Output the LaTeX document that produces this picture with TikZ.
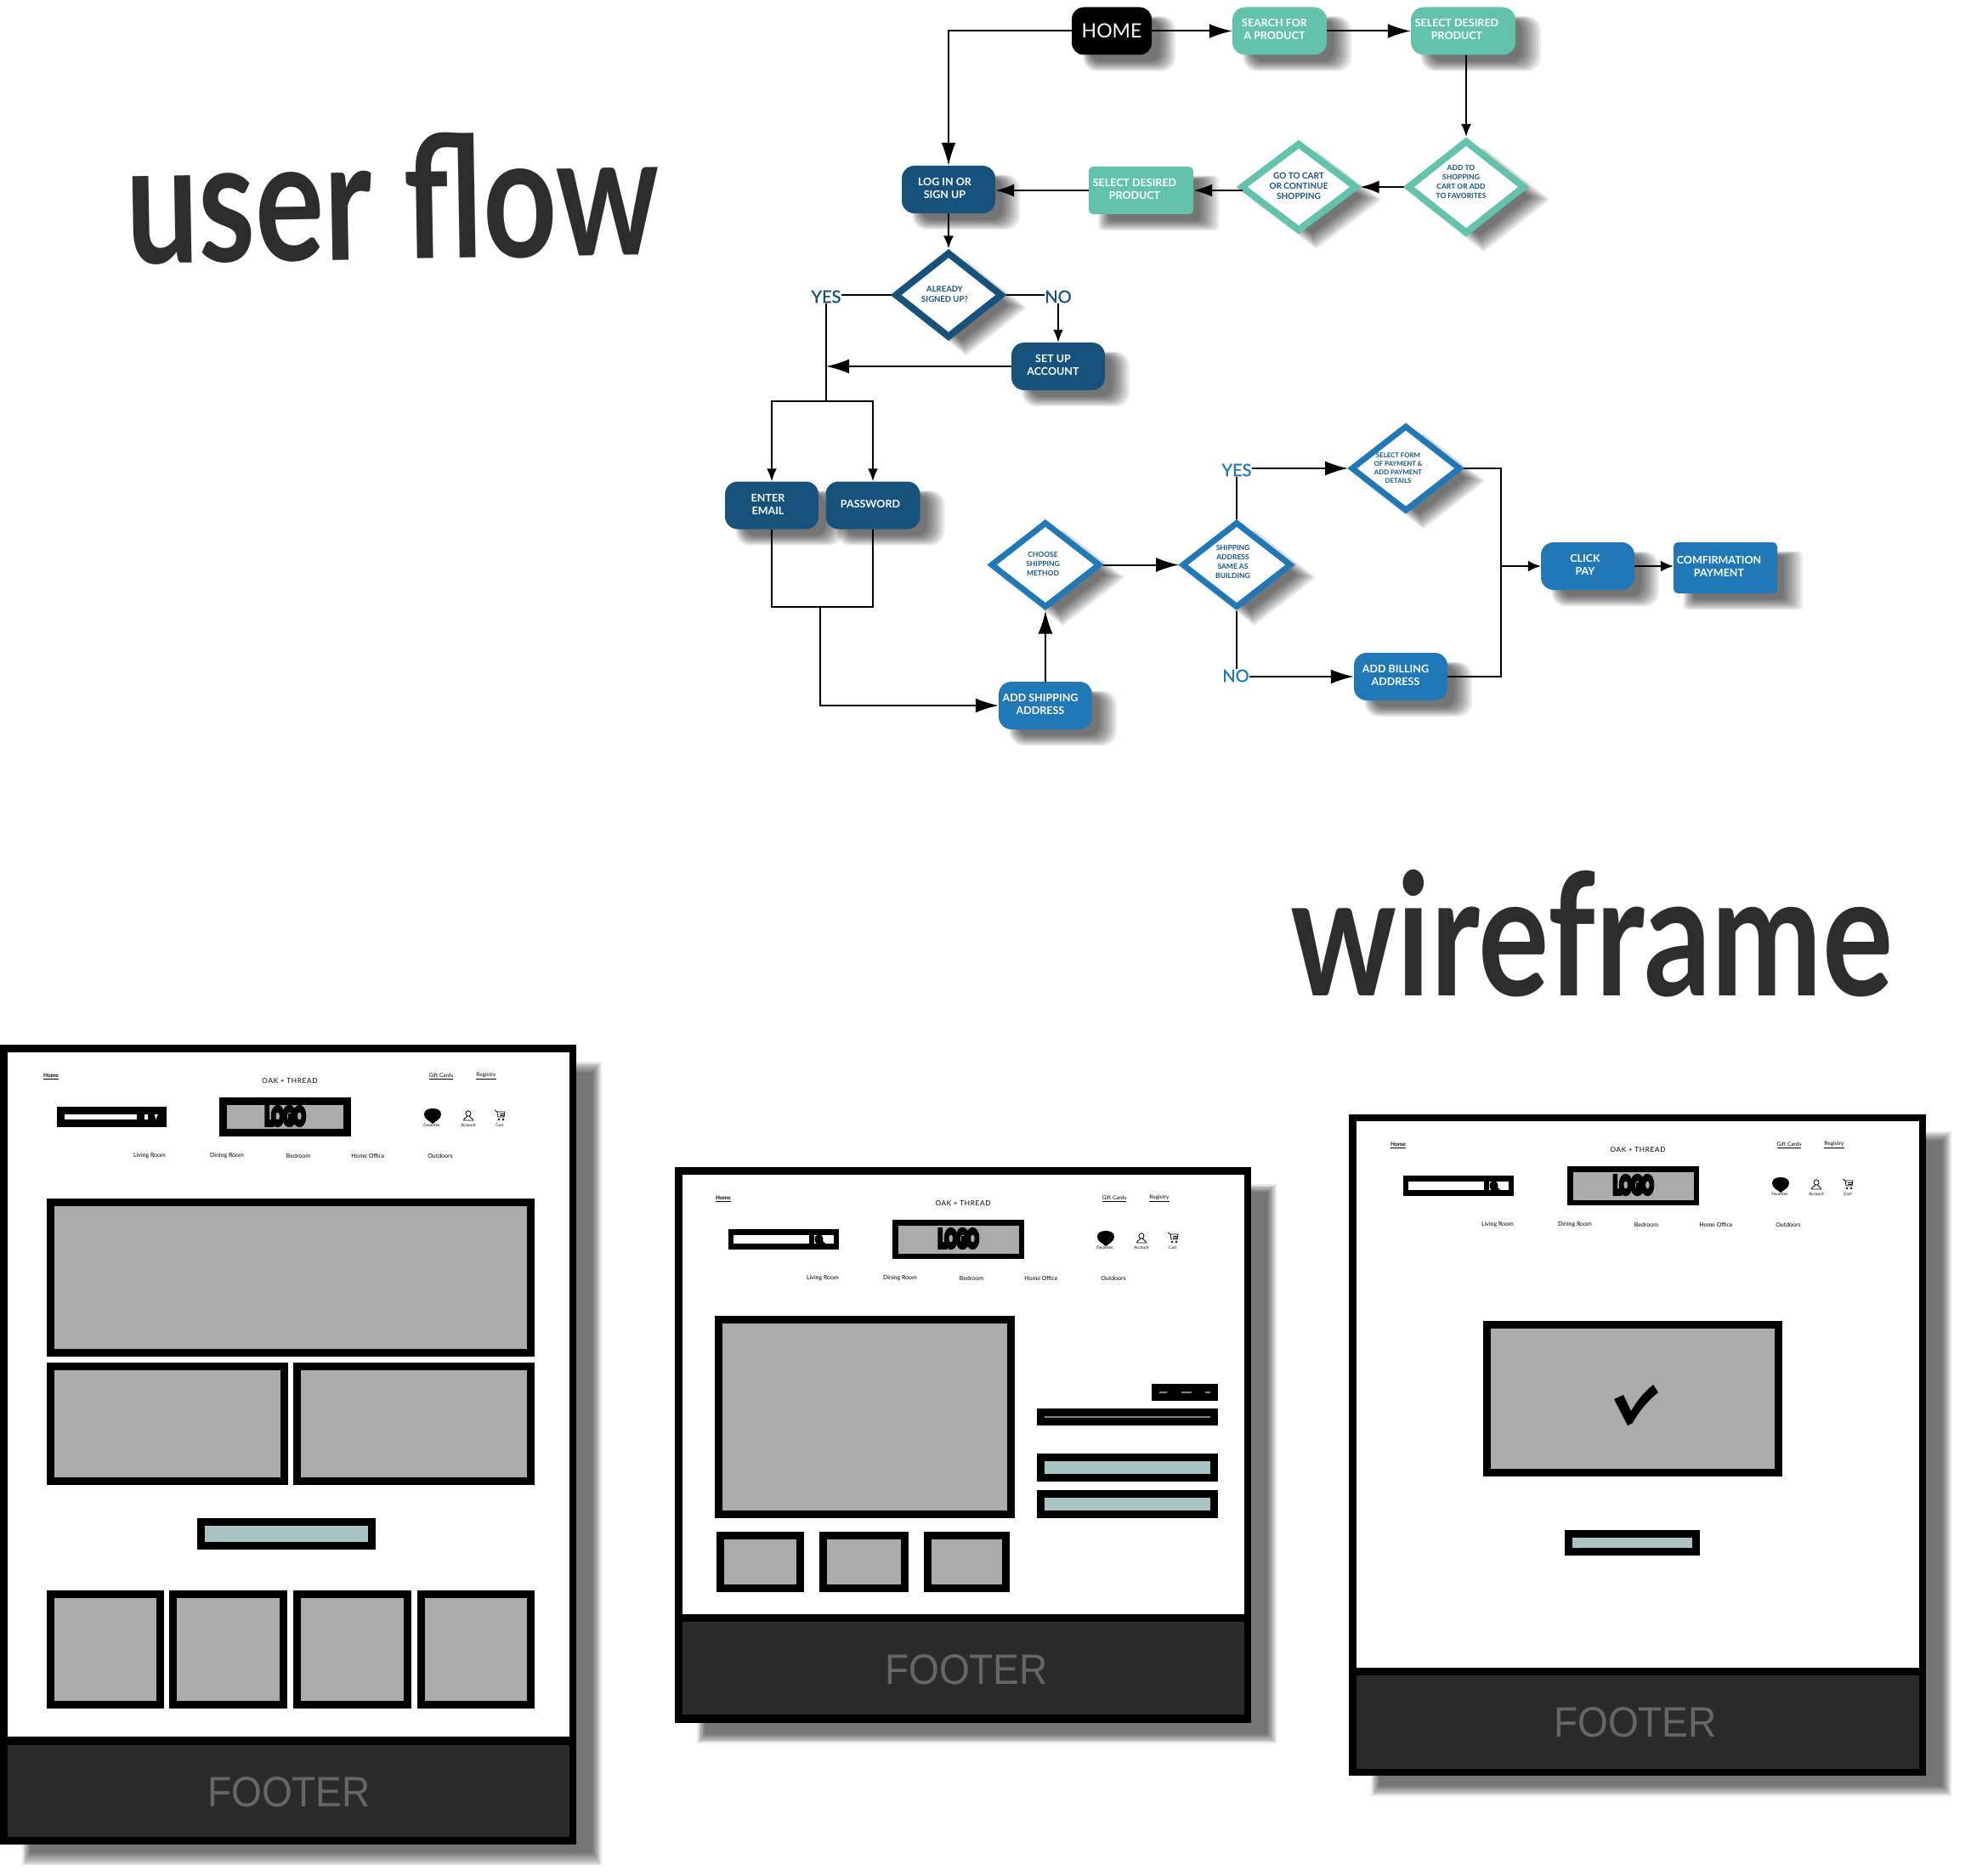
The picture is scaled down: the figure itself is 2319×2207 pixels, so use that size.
\documentclass[tikz,border=0pt]{standalone}
\usepackage{fontspec}
\setmainfont{Lato}
\newfontfamily\footerfont{Liberation Sans}
\newfontfamily\logofont[FakeBold=24]{Lato}
\newfontfamily\wordfont[FakeBold=1]{Lato}
\usetikzlibrary{arrows.meta, shapes.geometric, shadows}
\definecolor{flowteal}{HTML}{62C2AC}
\definecolor{flownavy}{HTML}{16527B}
\definecolor{flowblue}{HTML}{2079B6}
\definecolor{imggrey}{HTML}{ABABAB}
\definecolor{btnteal}{HTML}{A9C3C2}
\definecolor{footerdark}{HTML}{2B2B2B}
\definecolor{footertext}{HTML}{666666}
\definecolor{titledark}{HTML}{2D2D2D}
\tikzset{
  flowlayer/.style={general shadow={shadow xshift=18pt, shadow yshift=-13pt, shadow scale=#1, fill=black, opacity=.09}},
  wflayer/.style={general shadow={shadow xshift=28pt, shadow yshift=-22pt, shadow scale=#1, fill=black, opacity=.09}},
  flowshadow/.style={flowlayer/.list={1.15,1.11,1.07,1.03,.99,.95,.91,.87}},
  wfshadow/.style={wflayer/.list={1.005,1.001,.997,.993,.988,.984,.98,.975}},
  flowbox/.style={rectangle, rounded corners=15pt, minimum width=110pt, minimum height=56pt, inner sep=0pt, text=white, font=\fontsize{12.5}{15}\selectfont\bfseries, flowshadow},
  flowdiamond/.style={diamond, aspect=1.26, draw=#1, line width=8pt, fill=white, inner sep=0pt, text=flownavy, flowshadow},
  flowword/.style={inner sep=0pt, font=\wordfont\fontsize{20}{20}\selectfont},
  bigarrow/.style={-{Latex[length=27pt,width=17pt]}},
  midarrow/.style={-{Latex[length=22pt,width=15pt]}},
  smallarrow/.style={-{Latex[length=15pt,width=12pt]}},
  link/.style={line width=2pt, black},
  imgbox/.style={draw=black, line width=9pt, fill=imggrey},
  btnbox/.style={draw=black, line width=9pt, fill=btnteal},
  navlink/.style={inner sep=0pt, font=\fontsize{6.5}{8}\selectfont},
  brandtext/.style={inner sep=0pt, font=\fontsize{8.2}{10}\selectfont\addfontfeature{LetterSpace=8}},
  menuitem/.style={inner sep=0pt, font=\fontsize{7}{9}\selectfont},
  iconlabel/.style={inner sep=0pt, font=\fontsize{4.8}{6}\selectfont},
  logotext/.style={inner sep=0pt, font=\logofont\fontsize{27}{27}\selectfont},
  footerlabel/.style={inner sep=0pt, text=footertext, font=\footerfont\fontsize{50}{50}\selectfont},
  bigtitle/.style={inner sep=0pt, text=titledark, font=\fontsize{200}{200}\selectfont\bfseries}
}
\newcommand{\lines}[2]{\begin{tabular}{@{}c@{}}#2\end{tabular}\hspace*{#1pt}}
\newcommand{\wfheader}[5]{%
  \begin{scope}[shift={(#2,#3)}]
    \node[navlink] (#1home) at (#4,-36) {\bfseries\underline{Home}};
    \node[brandtext] (#1brand) at (276,-30) {OAK + THREAD};
    \node[navlink] (#1gift) at (454,-36) {\underline{Gift Cards}};
    \node[navlink] (#1registry) at (507,-36) {\underline{Registry}};
    \fill[black] (193,-11) rectangle (348,35);
    \fill[imggrey] (193+#5,-11+#5) rectangle (348-#5,35-#5);
    \node[logotext] (#1logo) at (270.5,11) {\scalebox{.62}[1]{LOGO}};
    \fill[black] (444,20) .. controls (441,17) and (434,15) .. (434,9) .. controls (434,4.5) and (438,2) .. (444,2) .. controls (450,2) and (454,4.5) .. (454,9) .. controls (454,15) and (447,17) .. (444,20) -- cycle;
    \draw[line width=.8pt] (486,8) ellipse (3 and 3.2);
    \draw[line width=.8pt] (484.5,11) .. controls (484.5,13) and (480.5,13) .. (480.5,16) -- (491.5,16) .. controls (491.5,13) and (487.5,13) .. (487.5,11);
    \draw[line width=.8pt] (517,4) -- (520,6) -- (529,6) -- (528,12) -- (521,12) -- (520,6);
    \draw[line width=.6pt] (523,8) -- (528,8) (523,10) -- (528,10);
    \fill[black] (522,15) circle (1.4) (527,15) circle (1.4);
    \node[iconlabel] (#1fav) at (443,22) {Favorites};
    \node[iconlabel] (#1acc) at (486,22) {Account};
    \node[iconlabel] (#1cart) at (523,22) {Cart};
    \foreach \X/\Y [count=\Z] in {Living Room/111, Dining Room/202, Bedroom/286, Home Office/368, Outdoors/453} {
      \node[menuitem] (#1menu\Z) at (\Y,58) {\X};
    }
  \end{scope}}
\newcommand{\wfsearch}[2]{%
  \begin{scope}[shift={(#1,#2)}]
    \fill[black] (0,0) rectangle (130,24);
    \fill[white] (6,7) rectangle (95,17);
    \fill[white] (101,7) rectangle (124,17);
    \fill[black] (106.5,12) ellipse (5 and 6);
    \draw[line width=3pt] (110,15) -- (116,21);
  \end{scope}}
\begin{document}
\begin{tikzpicture}[x=1pt, y=-1pt]
  \useasboundingbox (0,0) rectangle (2319,2207);
  \fill[white] (0,0) rectangle (2319,2207);

  \node[bigtitle, rotate=1] (userflow) at (462,232) {\scalebox{.76}[1]{user flow}};
  \node[bigtitle] (wireframe) at (1873,1098) {\scalebox{.78}[1]{wireframe}};

  % flow nodes
  \node[flowbox, fill=black, rounded corners=14pt, minimum width=94pt, font=\fontsize{23}{25}\selectfont] (home) at (1308,36.5) {HOME};
  \node[flowbox, fill=flowteal, minimum width=111pt] (search) at (1505.5,36.5) {\lines{12}{SEARCH FOR\\A PRODUCT}};
  \node[flowbox, fill=flowteal, minimum width=123pt] (selectone) at (1721.5,36.5) {\lines{15}{SELECT DESIRED\\PRODUCT}};
  \node[flowdiamond=flowteal, minimum width=137pt, minimum height=104pt, font=\fontsize{8.5}{11}\selectfont\bfseries] (addfav) at (1725,220) {\lines{12}{ADD TO\\SHOPPING\\CART OR ADD\\TO FAVORITES\\[10pt]}};
  \node[flowdiamond=flowteal, minimum width=137pt, minimum height=104pt, font=\fontsize{10}{12}\selectfont\bfseries] (gocart) at (1528,220) {\lines{0}{GO TO CART\\OR CONTINUE\\SHOPPING}};
  \node[flowbox, fill=flowteal, rounded corners=5pt, minimum width=123pt] (selecttwo) at (1342.5,224) {\lines{15}{SELECT DESIRED\\PRODUCT}};
  \node[flowbox, fill=flownavy] (login) at (1116,223) {\lines{9}{LOG IN OR\\SIGN UP}};
  \node[flowdiamond=flownavy, minimum width=127pt, minimum height=101pt, font=\fontsize{9.5}{12}\selectfont\bfseries] (signed) at (1116,347) {\lines{9}{ALREADY\\SIGNED UP?}};
  \node[flowword, text=flownavy] (yes) at (972,349) {YES};
  \node[flowword, text=flownavy] (no) at (1245,349) {NO};
  \node[flowbox, fill=flownavy] (setup) at (1245,431) {\lines{12}{SET UP\\ACCOUNT}};
  \coordinate (fork) at (972,472);
  \node[flowbox, fill=flownavy] (enter) at (908,594.5) {\lines{9}{ENTER\\EMAIL}};
  \node[flowbox, fill=flownavy, minimum width=111pt] (password) at (1027,594.5) {\lines{6}{PASSWORD}};
  \coordinate (merge) at (965,714);
  \node[flowbox, fill=flowblue] (addship) at (1230,830) {\lines{12}{ADD SHIPPING\\ADDRESS}};
  \node[flowdiamond=flowblue, line width=7pt, minimum width=129pt, minimum height=101pt, text=flowblue!70!black, font=\fontsize{8.5}{11}\selectfont\bfseries] (choose) at (1230,664.5) {\lines{6}{CHOOSE\\SHIPPING\\METHOD}};
  \node[flowdiamond=flowblue, line width=7pt, minimum width=129pt, minimum height=101pt, text=flowblue!70!black, font=\fontsize{8.5}{11}\selectfont\bfseries] (same) at (1455,664.5) {\lines{9}{SHIPPING\\ADDRESS\\SAME AS\\BUILDING\\[6pt]}};
  \node[flowword, text=flowblue] (yesb) at (1455,553) {YES};
  \node[flowword, text=flowblue] (nob) at (1454,795) {NO};
  \node[flowdiamond=flowblue, line width=7pt, minimum width=129pt, minimum height=101pt, text=flowblue!70!black, font=\fontsize{7.8}{10}\selectfont\bfseries] (pay) at (1654,551) {\lines{18}{SELECT FORM\\OF PAYMENT \&\\ADD PAYMENT\\DETAILS}};
  \node[flowbox, fill=flowblue] (billing) at (1648,796) {\lines{12}{ADD BILLING\\ADDRESS}};
  \coordinate (paybus) at (1766,551);
  \coordinate (billbus) at (1766,796);
  \coordinate (clickbus) at (1766,666);
  \node[flowbox, fill=flowblue] (click) at (1868,666) {\lines{6}{CLICK\\PAY}};
  \node[flowbox, fill=flowblue, rounded corners=5pt, minimum width=122pt, minimum height=60pt] (confirm) at (2030,668) {\lines{15}{COMFIRMATION\\PAYMENT}};

  % flow connectors
  \draw[link, bigarrow] (home.west) -| (login.north);
  \draw[link, bigarrow] (home) -- (search);
  \draw[link, bigarrow] (search) -- (selectone);
  \draw[link, smallarrow] (selectone.south -| addfav.north) -- (addfav.north);
  \draw[link, midarrow] (addfav.west) -- (gocart.east);
  \draw[link, midarrow] ([shift={(6,4)}]gocart.west) -- (selecttwo.east);
  \draw[link, midarrow] (selecttwo.west) -- (login.east |- selecttwo.west);
  \draw[link, smallarrow] (login) -- (signed.north);
  \draw[link] (signed.west) -- (yes.east |- signed.west);
  \draw[link] (signed.east) -- (no.west |- signed.east);
  \draw[link, smallarrow] (no.south) -- (setup.north);
  \draw[link] (yes.south) -- (fork);
  \draw[link, bigarrow] (setup.west) -- (fork |- setup.west);
  \draw[link, smallarrow] (fork) -| (enter.north);
  \draw[link, smallarrow] (fork) -| (password.north);
  \draw[link] (enter.south) |- (merge);
  \draw[link] (password.south) |- (merge);
  \draw[link, bigarrow] (merge) |- (addship.west);
  \draw[link, bigarrow] (addship.north) -- (choose.south);
  \draw[link, bigarrow] (choose.east) -- (same.west);
  \draw[link] (same.north) -- (yesb.south);
  \draw[link] (same.south) -- (nob.north -| same.south);
  \draw[link, bigarrow] (yesb.east |- pay.west) -- (pay.west);
  \draw[link, bigarrow] (nob.east |- billing.west) -- (billing.west);
  \draw[link] (pay.east) -- (paybus) -- (billbus) -- (billing.east);
  \draw[link, -{Latex[length=15pt,width=13pt]}] (clickbus) -- (click.west);
  \draw[link, -{Latex[length=15pt,width=13pt]}] (click.east) -- (click.east -| confirm.west);

  % frames
  \foreach \a/\b/\c/\d/\e/\f/\g/\h in {0/1229/678/2170/1238/2043/2053/2161, 794/1373/1472/2027/1382/1899/1908/2017, 1587/1311/2266/2089/1319/1962/1971/2081} {
    \fill[black, wfshadow] (\a,\b) rectangle (\c,\d);
    \fill[white] (\a+9,\e) rectangle (\c-8,\f);
    \fill[footerdark] (\a+9,\g) rectangle (\c-8,\h);
  }
  \node[footerlabel] (footerone) at (340,2108) {\scalebox{.92}[1]{FOOTER}};
  \node[footerlabel] (footertwo) at (1137,1964.5) {\scalebox{.92}[1]{FOOTER}};
  \node[footerlabel] (footerthree) at (1924,2026.5) {\scalebox{.92}[1]{FOOTER}};

  % headers
  \wfheader{a}{65}{1302}{-5}{9}
  \wfheader{b}{857}{1446}{-6}{6.5}
  \wfheader{c}{1651}{1383}{-6}{6.5}
  \fill[black] (67,1302) rectangle (196,1326);
  \fill[white] (76,1311) rectangle (161,1317);
  \fill[white] (170,1311) rectangle (174,1317) (182,1311) -- (186,1311) -- (183,1317) -- cycle;
  \wfsearch{857}{1446}
  \wfsearch{1651}{1383}

  % image blocks
  \foreach \a/\b/\c/\d in {55/1410/629/1596, 55/1603/339/1747, 345/1603/629/1747, 55/1871/193/2010, 199/1871/338/2010, 345/1871/484/2010, 491/1871/629/2010, 841/1548/1194/1786, 843/1802/946/1873, 964/1802/1069/1873, 1087/1802/1188/1873, 1745/1554/2097/1737} {
    \draw[imgbox] (\a+4.5,\b+4.5) rectangle (\c-4.5,\d-4.5);
  }
  \foreach \a/\b/\c/\d in {232/1786/442/1823, 1220/1710/1433/1743, 1220/1753/1433/1786, 1841/1800/2000/1830} {
    \draw[btnbox] (\a+4.5,\b+4.5) rectangle (\c-4.5,\d-4.5);
  }

  % price and title bars
  \fill[black] (1355,1628) rectangle (1433,1648);
  \fill[gray] (1364,1637) rectangle (1373,1639) (1390,1637) rectangle (1402,1639) (1418,1637) rectangle (1424,1639);
  \fill[black] (1220,1657) rectangle (1433,1677);
  \fill[gray] (1229,1666) rectangle (1424,1668);

  % check mark
  \fill[black] (1899,1646) -- (1910,1641) -- (1919,1660) .. controls (1926,1648) and (1934,1638) .. (1945,1629) -- (1951,1638) .. controls (1941,1646) and (1928,1660) .. (1921,1674) -- (1915,1677) -- cycle;
\end{tikzpicture}
\end{document}
